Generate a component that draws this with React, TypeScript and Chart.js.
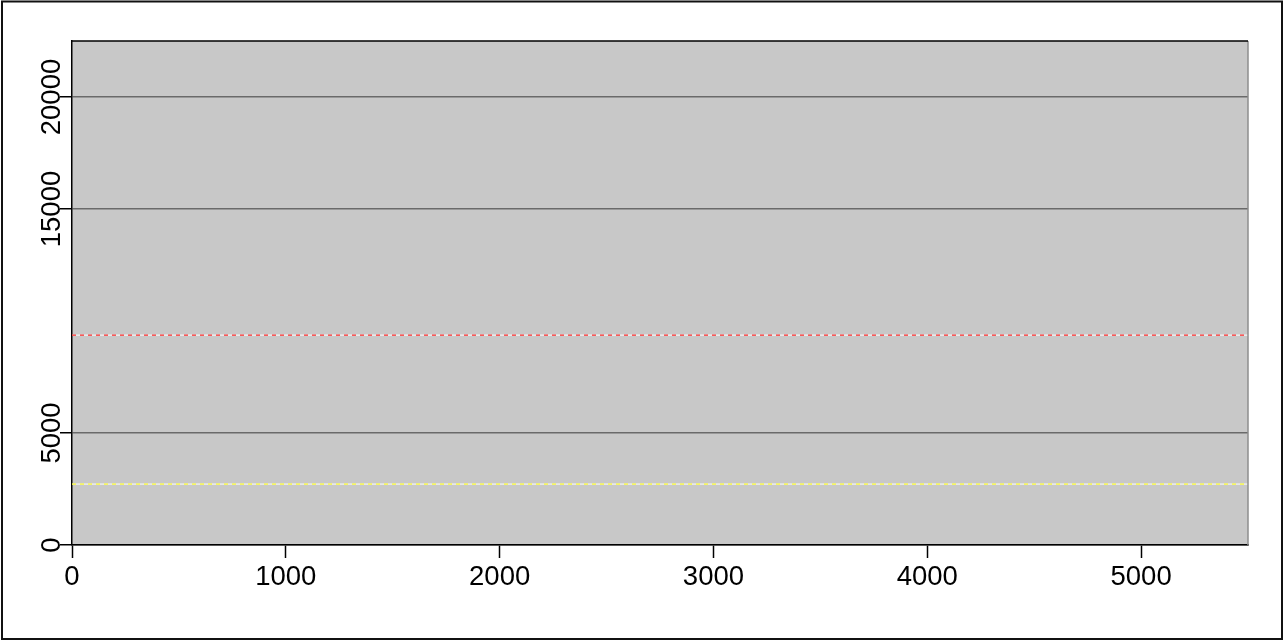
import React, { useEffect, useRef } from 'react';
import { Chart, registerables } from 'chart.js';

Chart.register(...registerables);

const xTicks = [0, 1000, 2000, 3000, 4000, 5000];
const yTicks = [0, 5000, 15000, 20000];
const xRange = [0, 5500];
const yRange = [0, 22500];
const upperLineValue = 9370;
const lowerLineValue = 2720;

const FONT = '"Liberation Sans", Arial, Helvetica, sans-serif';
const FONT_SIZE = 27.5;

export default function App() {
  const ref = useRef<HTMLCanvasElement | null>(null);

  useEffect(() => {
    const canvas = ref.current;
    if (!canvas) return;

    const hLine = (v: number) => [
      { x: xRange[0], y: v },
      { x: xRange[1], y: v },
    ];

    const bgPlugin = {
      id: 'bg',
      beforeDraw(chart: any) {
        const { ctx, chartArea: a } = chart;
        ctx.save();
        ctx.fillStyle = '#c8c8c8';
        ctx.fillRect(a.left, a.top, a.right - a.left, a.bottom - a.top);
        ctx.restore();
      },
    };

    const framePlugin = {
      id: 'frame',
      afterDraw(chart: any) {
        const { ctx, chartArea: a } = chart;
        ctx.save();
        ctx.strokeStyle = '#8e8e8e';
        ctx.lineWidth = 1.5;
        ctx.beginPath();
        ctx.moveTo(a.right, a.top);
        ctx.lineTo(a.right, a.bottom);
        ctx.stroke();
        ctx.strokeStyle = '#000';
        ctx.lineWidth = 1.5;
        ctx.beginPath();
        ctx.moveTo(a.left, a.top);
        ctx.lineTo(a.right, a.top);
        ctx.stroke();
        ctx.strokeStyle = '#111';
        ctx.lineWidth = 2;
        ctx.strokeRect(2, 1.5, 1280, 637.5);
        const ys = chart.scales.y;
        ctx.fillStyle = '#000';
        ctx.font = `${FONT_SIZE}px ${FONT}`;
        ctx.textAlign = 'center';
        ctx.textBaseline = 'alphabetic';
        for (const v of yTicks) {
          const py = ys.getPixelForValue(v);
          ctx.save();
          ctx.translate(60, py);
          ctx.rotate(-Math.PI / 2);
          ctx.fillText(String(v), 0, 0);
          ctx.restore();
        }
        ctx.restore();
      },
    };

    const chart = new Chart(canvas, {
      type: 'line',
      data: {
        datasets: [
          { data: hLine(upperLineValue), borderColor: '#ffffff', borderWidth: 1, pointRadius: 0, order: 2 },
          { data: hLine(upperLineValue), borderColor: '#ff0000', borderWidth: 1, borderDash: [4, 4], pointRadius: 0, order: 1 },
          { data: hLine(lowerLineValue), borderColor: '#ffffff', borderWidth: 1, pointRadius: 0, order: 2 },
          { data: hLine(lowerLineValue), borderColor: '#ffff00', borderWidth: 1, borderDash: [4, 4], pointRadius: 0, order: 1 },
        ],
      },
      options: {
        responsive: false,
        animation: false,
        events: [],
        layout: { padding: { left: 0, top: 41, right: 39, bottom: 0 } },
        plugins: { legend: { display: false }, tooltip: { enabled: false } },
        scales: {
          x: {
            type: 'linear',
            min: xRange[0],
            max: xRange[1],
            afterBuildTicks(scale: any) {
              scale.ticks = xTicks.map((value) => ({ value }));
            },
            afterFit(scale: any) {
              scale.height = 96;
            },
            grid: {
              drawOnChartArea: false,
              drawTicks: true,
              tickLength: 13,
              tickColor: '#000',
              tickWidth: 1.5,
            },
            border: { display: true, color: '#000', width: 1.5 },
            ticks: {
              color: '#000',
              font: { family: FONT, size: FONT_SIZE },
              padding: 3,
              maxRotation: 0,
              minRotation: 0,
              callback: (v: any) => String(v),
            },
          },
          y: {
            type: 'linear',
            min: yRange[0],
            max: yRange[1],
            afterBuildTicks(scale: any) {
              scale.ticks = yTicks.map((value) => ({ value }));
            },
            afterFit(scale: any) {
              scale.width = 72;
            },
            grid: {
              color: '#6a6a6a',
              lineWidth: 1.5,
              drawTicks: true,
              tickLength: 12,
              tickColor: '#000',
              tickWidth: 1.5,
            },
            border: { display: true, color: '#000', width: 1.5 },
            ticks: { display: false },
          },
        },
      },
      plugins: [bgPlugin, framePlugin],
    } as any);

    return () => chart.destroy();
  }, []);

  return (
    <div style={{ position: 'fixed', left: 0, top: 0, width: 1287, height: 641, background: '#fff' }}>
      <canvas ref={ref} width={1287} height={641} style={{ display: 'block' }} />
    </div>
  );
}
